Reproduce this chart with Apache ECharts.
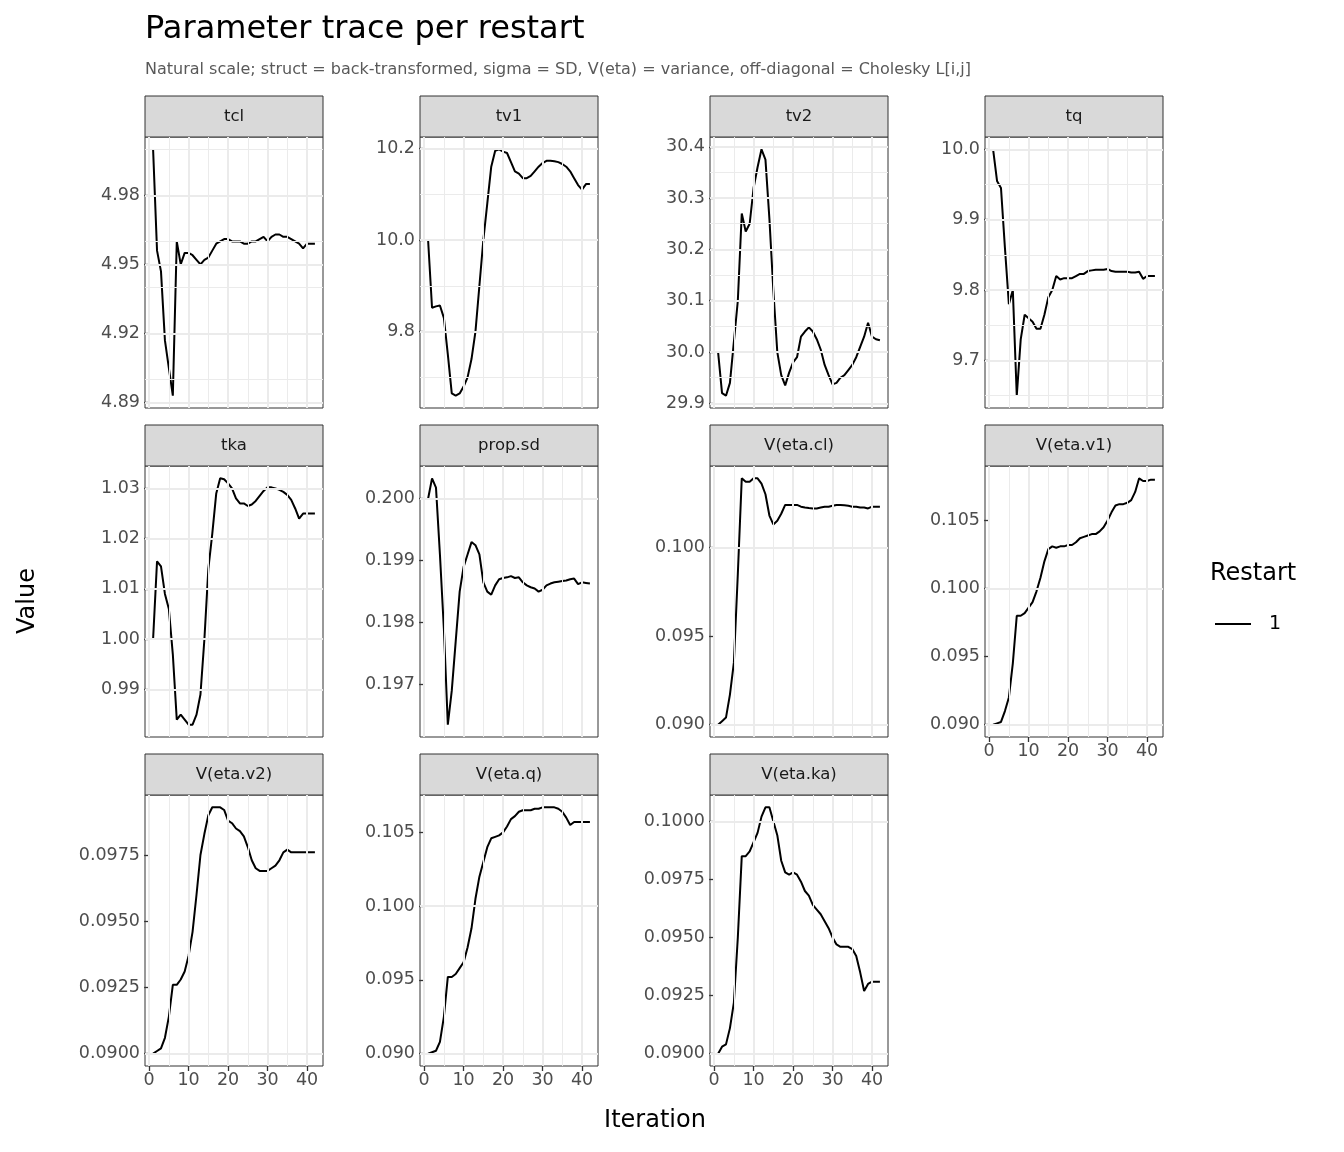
<!DOCTYPE html>
<html>
<head>
<meta charset="utf-8">
<script src="https://cdn.jsdelivr.net/npm/echarts@6/dist/echarts.min.js"></script>
<style>html,body{margin:0;padding:0;background:#fff}#chart{width:1344px;height:1152px}</style>
</head>
<body>
<div id="chart"></div>
<script>
const PANELS = ["tcl", "tv1", "tv2", "tq", "tka", "prop.sd", "V(eta.cl)", "V(eta.v1)", "V(eta.v2)", "V(eta.q)", "V(eta.ka)"];
const ITER = Array.from({ length: 42 }, (_, i) => i + 1);
const X_TICKS = [0, 10, 20, 30, 40];

const tcl = [5.000,4.956,4.947,4.917,4.905,4.893,4.960,4.950,4.955,4.955,4.954,4.952,4.950,4.952,4.953,4.956,4.959,4.960,4.961,4.961,4.960,4.960,4.960,4.959,4.959,4.960,4.960,4.961,4.962,4.960,4.962,4.963,4.963,4.962,4.962,4.961,4.960,4.959,4.957,4.959,4.959,4.959];
const tv1 = [10.0,9.852,9.855,9.857,9.83,9.75,9.665,9.66,9.665,9.68,9.70,9.74,9.80,9.90,10.00,10.08,10.16,10.195,10.198,10.193,10.19,10.17,10.15,10.145,10.135,10.135,10.14,10.15,10.16,10.168,10.173,10.173,10.172,10.17,10.166,10.16,10.15,10.135,10.12,10.11,10.122,10.122];
const tv2 = [30.0,29.92,29.915,29.94,30.02,30.10,30.27,30.235,30.25,30.32,30.36,30.395,30.375,30.26,30.12,30.00,29.955,29.935,29.96,29.98,29.99,30.03,30.04,30.048,30.04,30.025,30.005,29.975,29.955,29.937,29.94,29.95,29.955,29.965,29.975,29.99,30.01,30.03,30.057,30.03,30.025,30.023];
const tq = [10.0,9.955,9.945,9.86,9.78,9.80,9.65,9.73,9.765,9.76,9.755,9.745,9.745,9.765,9.79,9.80,9.82,9.815,9.817,9.817,9.817,9.82,9.823,9.823,9.827,9.828,9.829,9.829,9.829,9.83,9.827,9.826,9.826,9.826,9.826,9.825,9.825,9.826,9.816,9.82,9.82,9.82];
const tka = [1.000,1.0155,1.0145,1.009,1.006,0.997,0.984,0.985,0.984,0.983,0.983,0.985,0.989,1.000,1.014,1.021,1.029,1.032,1.0318,1.031,1.030,1.028,1.027,1.027,1.0265,1.0268,1.0275,1.0285,1.0295,1.0302,1.0302,1.030,1.0297,1.0293,1.0287,1.0277,1.026,1.024,1.025,1.025,1.025,1.025];
const propSd = [0.2000,0.20033,0.20018,0.1991,0.1979,0.19635,0.1969,0.1977,0.1985,0.1989,0.1991,0.1993,0.19925,0.1991,0.19865,0.1985,0.19845,0.1986,0.1987,0.19872,0.19873,0.19875,0.19872,0.19873,0.19865,0.1986,0.19857,0.19855,0.1985,0.19853,0.1986,0.19863,0.19865,0.19866,0.19867,0.19868,0.1987,0.19871,0.19862,0.19865,0.19864,0.19863];
const etaCl = [0.0900,0.0902,0.0904,0.0917,0.0935,0.0985,0.1039,0.1037,0.1037,0.1039,0.1039,0.1036,0.1030,0.1018,0.1013,0.1015,0.1019,0.1024,0.1024,0.1024,0.1024,0.1023,0.10225,0.10222,0.1022,0.1022,0.10225,0.1023,0.1023,0.10235,0.1024,0.1024,0.10238,0.10235,0.1023,0.1023,0.10225,0.10225,0.1022,0.1023,0.1023,0.1023];
const etaV1 = [0.0900,0.0901,0.0902,0.0910,0.0920,0.0945,0.0980,0.0980,0.0982,0.0986,0.0990,0.0998,0.1008,0.1020,0.1029,0.1031,0.1030,0.1031,0.1031,0.1032,0.1032,0.1034,0.1037,0.1038,0.1039,0.1040,0.1040,0.1042,0.1045,0.1050,0.1056,0.1061,0.1062,0.1062,0.1063,0.1065,0.1071,0.1081,0.1079,0.1079,0.1080,0.1080];
const etaV2 = [0.0900,0.0901,0.0902,0.0906,0.0914,0.0926,0.0926,0.0928,0.0931,0.0937,0.0946,0.0960,0.0975,0.0983,0.0990,0.0993,0.0993,0.0993,0.0992,0.0988,0.0987,0.0985,0.0984,0.0982,0.0978,0.0973,0.0970,0.0969,0.0969,0.0969,0.0970,0.0971,0.0973,0.0976,0.0977,0.0976,0.0976,0.0976,0.0976,0.0976,0.0976,0.0976];
const etaQ = [0.0900,0.0901,0.0902,0.0908,0.0925,0.0952,0.0952,0.0954,0.0958,0.0962,0.0972,0.0985,0.1005,0.1020,0.1030,0.1040,0.1046,0.1047,0.1048,0.1050,0.1054,0.1059,0.1061,0.1064,0.1065,0.1065,0.1065,0.1066,0.1066,0.1067,0.1067,0.1067,0.1067,0.1066,0.1064,0.1060,0.1055,0.1057,0.1057,0.1057,0.1057,0.1057];
const etaKa = [0.0900,0.0903,0.0904,0.0911,0.0922,0.0950,0.0985,0.0985,0.0987,0.0991,0.0995,0.1002,0.1006,0.1006,0.1000,0.0994,0.0983,0.0978,0.0977,0.0978,0.0977,0.0974,0.0970,0.0968,0.0964,0.0962,0.0960,0.0957,0.0954,0.0950,0.0947,0.0946,0.0946,0.0946,0.0945,0.0942,0.0935,0.0927,0.0930,0.0931,0.0931,0.0931];
const VALUES = [tcl, tv1, tv2, tq, tka, propSd, etaCl, etaV1, etaV2, etaQ, etaKa];

const Y_TICKS = [
  [4.89, 4.92, 4.95, 4.98],
  [9.8, 10.0, 10.2],
  [29.9, 30.0, 30.1, 30.2, 30.3, 30.4],
  [9.7, 9.8, 9.9, 10.0],
  [0.99, 1.00, 1.01, 1.02, 1.03],
  [0.197, 0.198, 0.199, 0.200],
  [0.090, 0.095, 0.100],
  [0.090, 0.095, 0.100, 0.105],
  [0.0900, 0.0925, 0.0950, 0.0975],
  [0.090, 0.095, 0.100, 0.105],
  [0.0900, 0.0925, 0.0950, 0.0975, 0.1000]
];
const Y_DECIMALS = [2, 1, 1, 1, 2, 3, 3, 3, 4, 3, 4];

const COL_LEFT = [145, 420, 710, 985];
const ROW_TOP = [137, 466, 795];
const PW = 178, PH = 271, STRIP = 41;
const FONT = "DejaVu Sans, Verdana, sans-serif";

const chart = echarts.init(document.getElementById("chart"));

function expand(lo, hi) {
  const d = (hi - lo) * 0.05;
  return [lo - d, hi + d];
}
function minors(ticks, lo, hi) {
  const step = ticks[1] - ticks[0];
  const out = [ticks[0] - step / 2, ...ticks.map(t => t + step / 2)];
  return out.filter(v => v > lo && v < hi);
}

const grids = [], xAxes = [], yAxes = [], series = [], graphics = [];
const [xMin, xMax] = expand(1, 42);
const xMinor = minors(X_TICKS, xMin, xMax);

PANELS.forEach((name, i) => {
  const col = i % 4, row = Math.floor(i / 4);
  const left = COL_LEFT[col], top = ROW_TOP[row];
  const vals = VALUES[i];
  const [yMin, yMax] = expand(Math.min(...vals), Math.max(...vals));
  const yT = Y_TICKS[i];
  const showX = row === 2 || i === 7;

  grids.push({ left, top, width: PW, height: PH, show: true, borderColor: "#333", borderWidth: 1, backgroundColor: "#fff" });
  xAxes.push({
    gridIndex: i, type: "value", min: xMin, max: xMax,
    splitLine: { show: false }, axisLine: { show: false },
    axisTick: { show: showX, customValues: X_TICKS, length: 5, lineStyle: { color: "#333", width: 1.3 } },
    axisLabel: { show: showX, customValues: X_TICKS, color: "#4d4d4d", fontSize: 17.5, fontFamily: FONT, margin: 5 }
  });
  yAxes.push({
    gridIndex: i, type: "value", min: yMin, max: yMax,
    splitLine: { show: false }, axisLine: { show: false },
    axisTick: { show: true, customValues: yT, length: 5, lineStyle: { color: "#333", width: 1.3 } },
    axisLabel: { customValues: yT, color: "#4d4d4d", fontSize: 17.5, fontFamily: FONT, margin: 5,
      formatter: v => v.toFixed(Y_DECIMALS[i]) }
  });

  const gridLines = (vs, w) => vs.map(v => ({ xAxis: v, lineStyle: { width: w } }));
  const gridLinesY = (vs, w) => vs.map(v => ({ yAxis: v, lineStyle: { width: w } }));
  series.push({
    type: "line", xAxisIndex: i, yAxisIndex: i, data: [], silent: true, z: 1,
    markLine: {
      silent: true, symbol: "none", label: { show: false },
      lineStyle: { color: "#ebebeb", type: "solid" },
      data: [...gridLines(xMinor, 1), ...gridLinesY(minors(yT, yMin, yMax), 1),
             ...gridLines(X_TICKS, 2), ...gridLinesY(yT, 2)]
    }
  });
  series.push({
    name: "1", type: "line", xAxisIndex: i, yAxisIndex: i, z: 3,
    data: ITER.map((x, k) => [x, vals[k]]),
    showSymbol: false, lineStyle: { color: "#000", width: 2 }, itemStyle: { color: "#000" }
  });

  graphics.push({ type: "rect", shape: { x: left, y: top - STRIP, width: PW, height: STRIP },
    style: { fill: "#d9d9d9", stroke: "#333", lineWidth: 1 } });
  graphics.push({ type: "text", x: left + PW / 2, y: top - STRIP / 2,
    style: { text: name, fill: "#1a1a1a", font: `16.5px ${FONT}`, align: "center", verticalAlign: "middle" } });
});

graphics.push(
  { type: "text", x: 145, y: 30, style: { text: "Parameter trace per restart", fill: "#000", font: `32px ${FONT}`, verticalAlign: "middle" } },
  { type: "text", x: 145, y: 70, style: { text: "Natural scale; struct = back-transformed, sigma = SD, V(eta) = variance, off-diagonal = Cholesky L[i,j]", fill: "#595959", font: `16px ${FONT}`, verticalAlign: "middle" } },
  { type: "text", x: 28, y: 601, rotation: Math.PI / 2, style: { text: "Value", fill: "#000", font: `24px ${FONT}`, align: "center", verticalAlign: "middle" } },
  { type: "text", x: 655, y: 1121, style: { text: "Iteration", fill: "#000", font: `24px ${FONT}`, align: "center", verticalAlign: "middle" } },
  { type: "text", x: 1210, y: 574, style: { text: "Restart", fill: "#000", font: `24px ${FONT}`, verticalAlign: "middle" } },
  { type: "line", shape: { x1: 1215, y1: 624, x2: 1251, y2: 624 }, style: { stroke: "#000", lineWidth: 2 } },
  { type: "text", x: 1269, y: 624, style: { text: "1", fill: "#000", font: `19px ${FONT}`, verticalAlign: "middle" } }
);

chart.setOption({
  animation: false,
  grid: grids, xAxis: xAxes, yAxis: yAxes, series,
  graphic: graphics
});
</script>
</body>
</html>
